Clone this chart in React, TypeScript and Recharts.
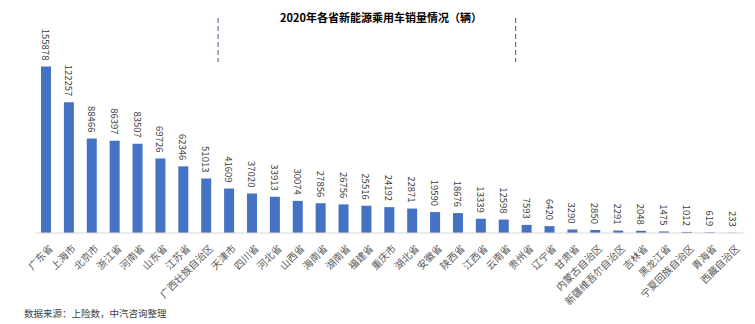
import React from 'react';
import { BarChart, Bar, XAxis, YAxis, LabelList, ReferenceLine } from 'recharts';

const provinces = [
  '广东省', '上海市', '北京市', '浙江省', '河南省', '山东省', '江苏省', '广西壮族自治区',
  '天津市', '四川省', '河北省', '山西省', '海南省', '湖南省', '福建省', '重庆市',
  '湖北省', '安徽省', '陕西省', '江西省', '云南省', '贵州省', '辽宁省', '甘肃省',
  '内蒙古自治区', '新疆维吾尔自治区', '吉林省', '黑龙江省', '宁夏回族自治区', '青海省', '西藏自治区',
];
const sales = [
  155878, 122257, 88466, 86397, 83507, 69726, 62346, 51013,
  41609, 37020, 33913, 30074, 27856, 26756, 25516, 24192,
  22871, 19590, 18676, 13339, 12598, 7593, 6420, 3290,
  2850, 2291, 2048, 1475, 1012, 619, 233,
];
// group dividers sit after these provinces
const dividers = ['广西壮族自治区', '云南省'];

const title = '2020年各省新能源乘用车销量情况（辆）';
const source = '数据来源：上险数，中汽咨询整理';

const FONT = '"Noto Sans CJK SC", "Noto Sans", sans-serif';
const BAND = 709.5 / provinces.length;

const data = provinces.map((province, i) => ({ province, sales: sales[i] }));

const ProvinceTick = (props: any) => {
  const { x, y, payload } = props;
  const tx = x + 4;
  const ty = y + 5;
  return (
    <text
      x={tx}
      y={ty}
      transform={`rotate(-45, ${tx}, ${ty})`}
      textAnchor="end"
      dominantBaseline="central"
      fontSize={10}
      fontFamily={FONT}
      fill="#595959"
    >
      {payload.value}
    </text>
  );
};

const ValueLabel = (props: any) => {
  const { x, y, width, value } = props;
  const cx = x + width / 2;
  const cy = y - 6;
  return (
    <text
      x={cx}
      y={cy}
      transform={`rotate(90, ${cx}, ${cy})`}
      textAnchor="end"
      dominantBaseline="central"
      fontSize={9.5}
      fontFamily={FONT}
      fill="#404040"
    >
      {value}
    </text>
  );
};

const Divider = (props: any) => {
  const { x1, y2 } = props;
  const x = x1 + BAND / 2;
  return <line x1={x} y1={18} x2={x} y2={y2} stroke="#3B5A8A" strokeWidth={1} strokeDasharray="5 3" />;
};

export default function App() {
  return (
    <div style={{ position: 'relative', width: 755, height: 324, background: '#fff' }}>
      <style>{'body{margin:0}'}</style>
      <BarChart
        width={755}
        height={324}
        data={data}
        margin={{ top: 62, right: 10.5, left: 35, bottom: 0 }}
        barCategoryGap={0}
      >
        <XAxis
          dataKey="province"
          interval={0}
          tickLine={false}
          axisLine={{ stroke: '#D9D9D9' }}
          height={91}
          tick={<ProvinceTick />}
        />
        <YAxis hide domain={[0, 160000]} />
        {dividers.map((d) => (
          <ReferenceLine key={d} x={d} shape={<Divider />} />
        ))}
        <Bar dataKey="sales" fill="#4472C4" barSize={10} isAnimationActive={false}>
          <LabelList dataKey="sales" content={<ValueLabel />} />
        </Bar>
      </BarChart>
      <div
        style={{
          position: 'absolute',
          top: 9,
          left: 0,
          width: 762,
          textAlign: 'center',
          fontFamily: FONT,
          fontWeight: 'bold',
          fontSize: 11,
          color: '#000',
        }}
      >
        {title}
      </div>
      <div
        style={{
          position: 'absolute',
          top: 306,
          left: 24,
          fontFamily: FONT,
          fontSize: 9.5,
          color: '#404040',
        }}
      >
        {source}
      </div>
    </div>
  );
}
